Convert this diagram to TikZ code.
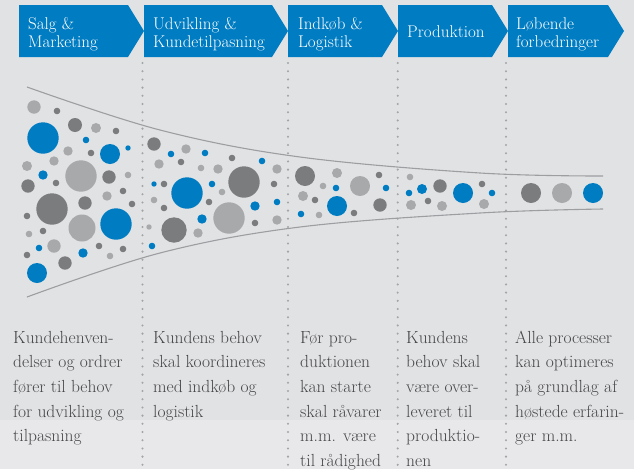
\documentclass[tikz,border=0pt]{standalone}
\usepackage{fontspec}
\definecolor{bg}{HTML}{E1E2E4}
\definecolor{bgl}{HTML}{E8E8EA}
\definecolor{cblue}{HTML}{007CC2}
\definecolor{cdark}{HTML}{7B7C7E}
\definecolor{clight}{HTML}{A8A9AB}
\definecolor{cline}{HTML}{9D9EA1}
\definecolor{cdot}{HTML}{A3A4A6}
\definecolor{ctext}{HTML}{464648}
\begin{document}
\begin{tikzpicture}[x=1pt,y=-1pt,
  head/.style={anchor=north west, inner sep=0pt, align=left, text=white, font=\fontsize{17}{18}\selectfont},
  body/.style={anchor=north west, inner sep=0pt, align=left, text=ctext, font=\fontsize{17.5}{24.6}\selectfont},
  sepline/.style={cdot, line width=2.3pt, line cap=round, dash pattern=on 0pt off 8.2pt},
  funnel/.style={cline, line width=1.1pt}]
\fill[bg] (0,0) rectangle (634,469);
\fill[bgl] (0,420) rectangle (634,469);
\useasboundingbox (0,0) rectangle (634,469);
% chevrons
\foreach \L/\T in {19/144,144/288,288/398,398/508,508/624}
  \fill[cblue] (\L,5) -- (\T-16,5) -- (\T,31) -- (\T-16,57) -- (\L,57) -- cycle;
\node[head] (h1) at (28,16.6) {\strut Salg \&\\Marketing};
\node[head] (h2) at (153,16.6) {\strut Udvikling \&\\Kundetilpasning};
\node[head] (h3) at (298,16.6) {\strut Indkøb \&\\Logistik};
\node[head] (h4) at (407,24.6) {\strut Produktion};
\node[head] (h5) at (516,16.6) {\strut Løbende\\forbedringer};
% dotted separators
\foreach \x/\n in {142.5/a,288/b,397.7/c,506/d}{
  \coordinate (s\n t) at (\x,63);
  \coordinate (s\n b) at (\x,469);
  \draw[sepline] (s\n t) -- (s\n b);
}
% funnel
\draw[funnel] plot[smooth, tension=0.6] coordinates {(27,87) (160,130) (300,157) (480,173) (603,176)};
\draw[funnel] plot[smooth, tension=0.6] coordinates {(27,297) (160,253) (300,227) (480,213) (603,209)};
% circles
\foreach \x/\y/\r in {43/138/15.7, 86/140/3.3, 110/154/10, 128/148/2.7, 43/175/4.7, 116/224/15.7, 39/248/3.3, 83/253/4.7, 37/273/10,
 171/154/3.3, 205/153/3.3, 262/161/3.3, 154/184/2.7, 187/193/15.7, 212/184/3.3, 255/206/4.7, 277/202/3.3, 202/219/4.7, 152/246/3.3,
 336/188/3.3, 386/188/3.3, 337/206/10, 301/214/3.3, 409/193/3.3, 422/189/5, 463/193/10, 492/193/3.3, 593/193/10}
  \fill[cblue] (\x,\y) circle[radius=\r];
\foreach \x/\y/\r in {57/111/3.3, 75/125/7, 116/131/3.3, 91/153/3.3, 109/177/6.7, 56/183/3.3, 28/186/6.7, 123/191/3.3, 52/209/15.7, 85/203/6.7, 132/204/3.3, 27/216/3.3, 43/231/3.3, 99/246/3.3, 123/249/3.3, 27/255/3.3, 65/263/6.7,
 154/144/6.7, 232/158/3.3, 181/162/3.3, 164/184/3.3, 244/182/15.7, 274/184/3.3, 164/208/3.3, 209/202/3.3, 174/230/12.7, 255/223/3.3,
 305/176/10, 379/175/3.3, 315/200/3.3, 380/205/6.7, 354/213/3.3, 440/186/6.7, 428/201/3.3, 482/184/3.3, 531/193/10}
  \fill[cdark] (\x,\y) circle[radius=\r];
\foreach \x/\y/\r in {34/107/6.7, 96/128/5, 68/151/4.7, 54/161/4.7, 27/166/5, 81/176/15.7, 128/175/3.3, 107/196/4.7, 82/228/13.5, 29/234/3.3, 54/246/6.7, 110/256/3.3,
 186/149/4.7, 159/164/4.7, 201/168/3.3, 218/169/4.7, 277/169/4.7, 222/192/3.3, 154/200/3.3, 229/218/15.7, 149/227/2.7, 198/233/4.7, 277/220/4.7,
 337/173/5, 323/186/3.3, 360/186/10, 303/196/5, 319/215/3.3, 410/177/3.3, 411/205/5, 442/206/5, 484/204/5, 562/193/10}
  \fill[clight] (\x,\y) circle[radius=\r];
% body texts
\node[body] (t1) at (13,325.8) {\strut Kundehenven-\\delser og ordrer\\fører til behov\\for udvikling og\\tilpasning};
\node[body] (t2) at (153,325.8) {\strut Kundens behov\\skal koordineres\\med indkøb og\\logistik};
\node[body] (t3) at (300,325.8) {\strut Før pro-\\duktionen\\kan starte\\skal råvarer\\m.m. være\\til rådighed};
\node[body] (t4) at (406,325.8) {\strut Kundens\\behov skal\\være over-\\leveret til\\produktio-\\nen};
\node[body] (t5) at (515,325.8) {\strut Alle processer\\kan optimeres\\på grundlag af\\høstede erfarin-\\ger m.m.};
\end{tikzpicture}
\end{document}
